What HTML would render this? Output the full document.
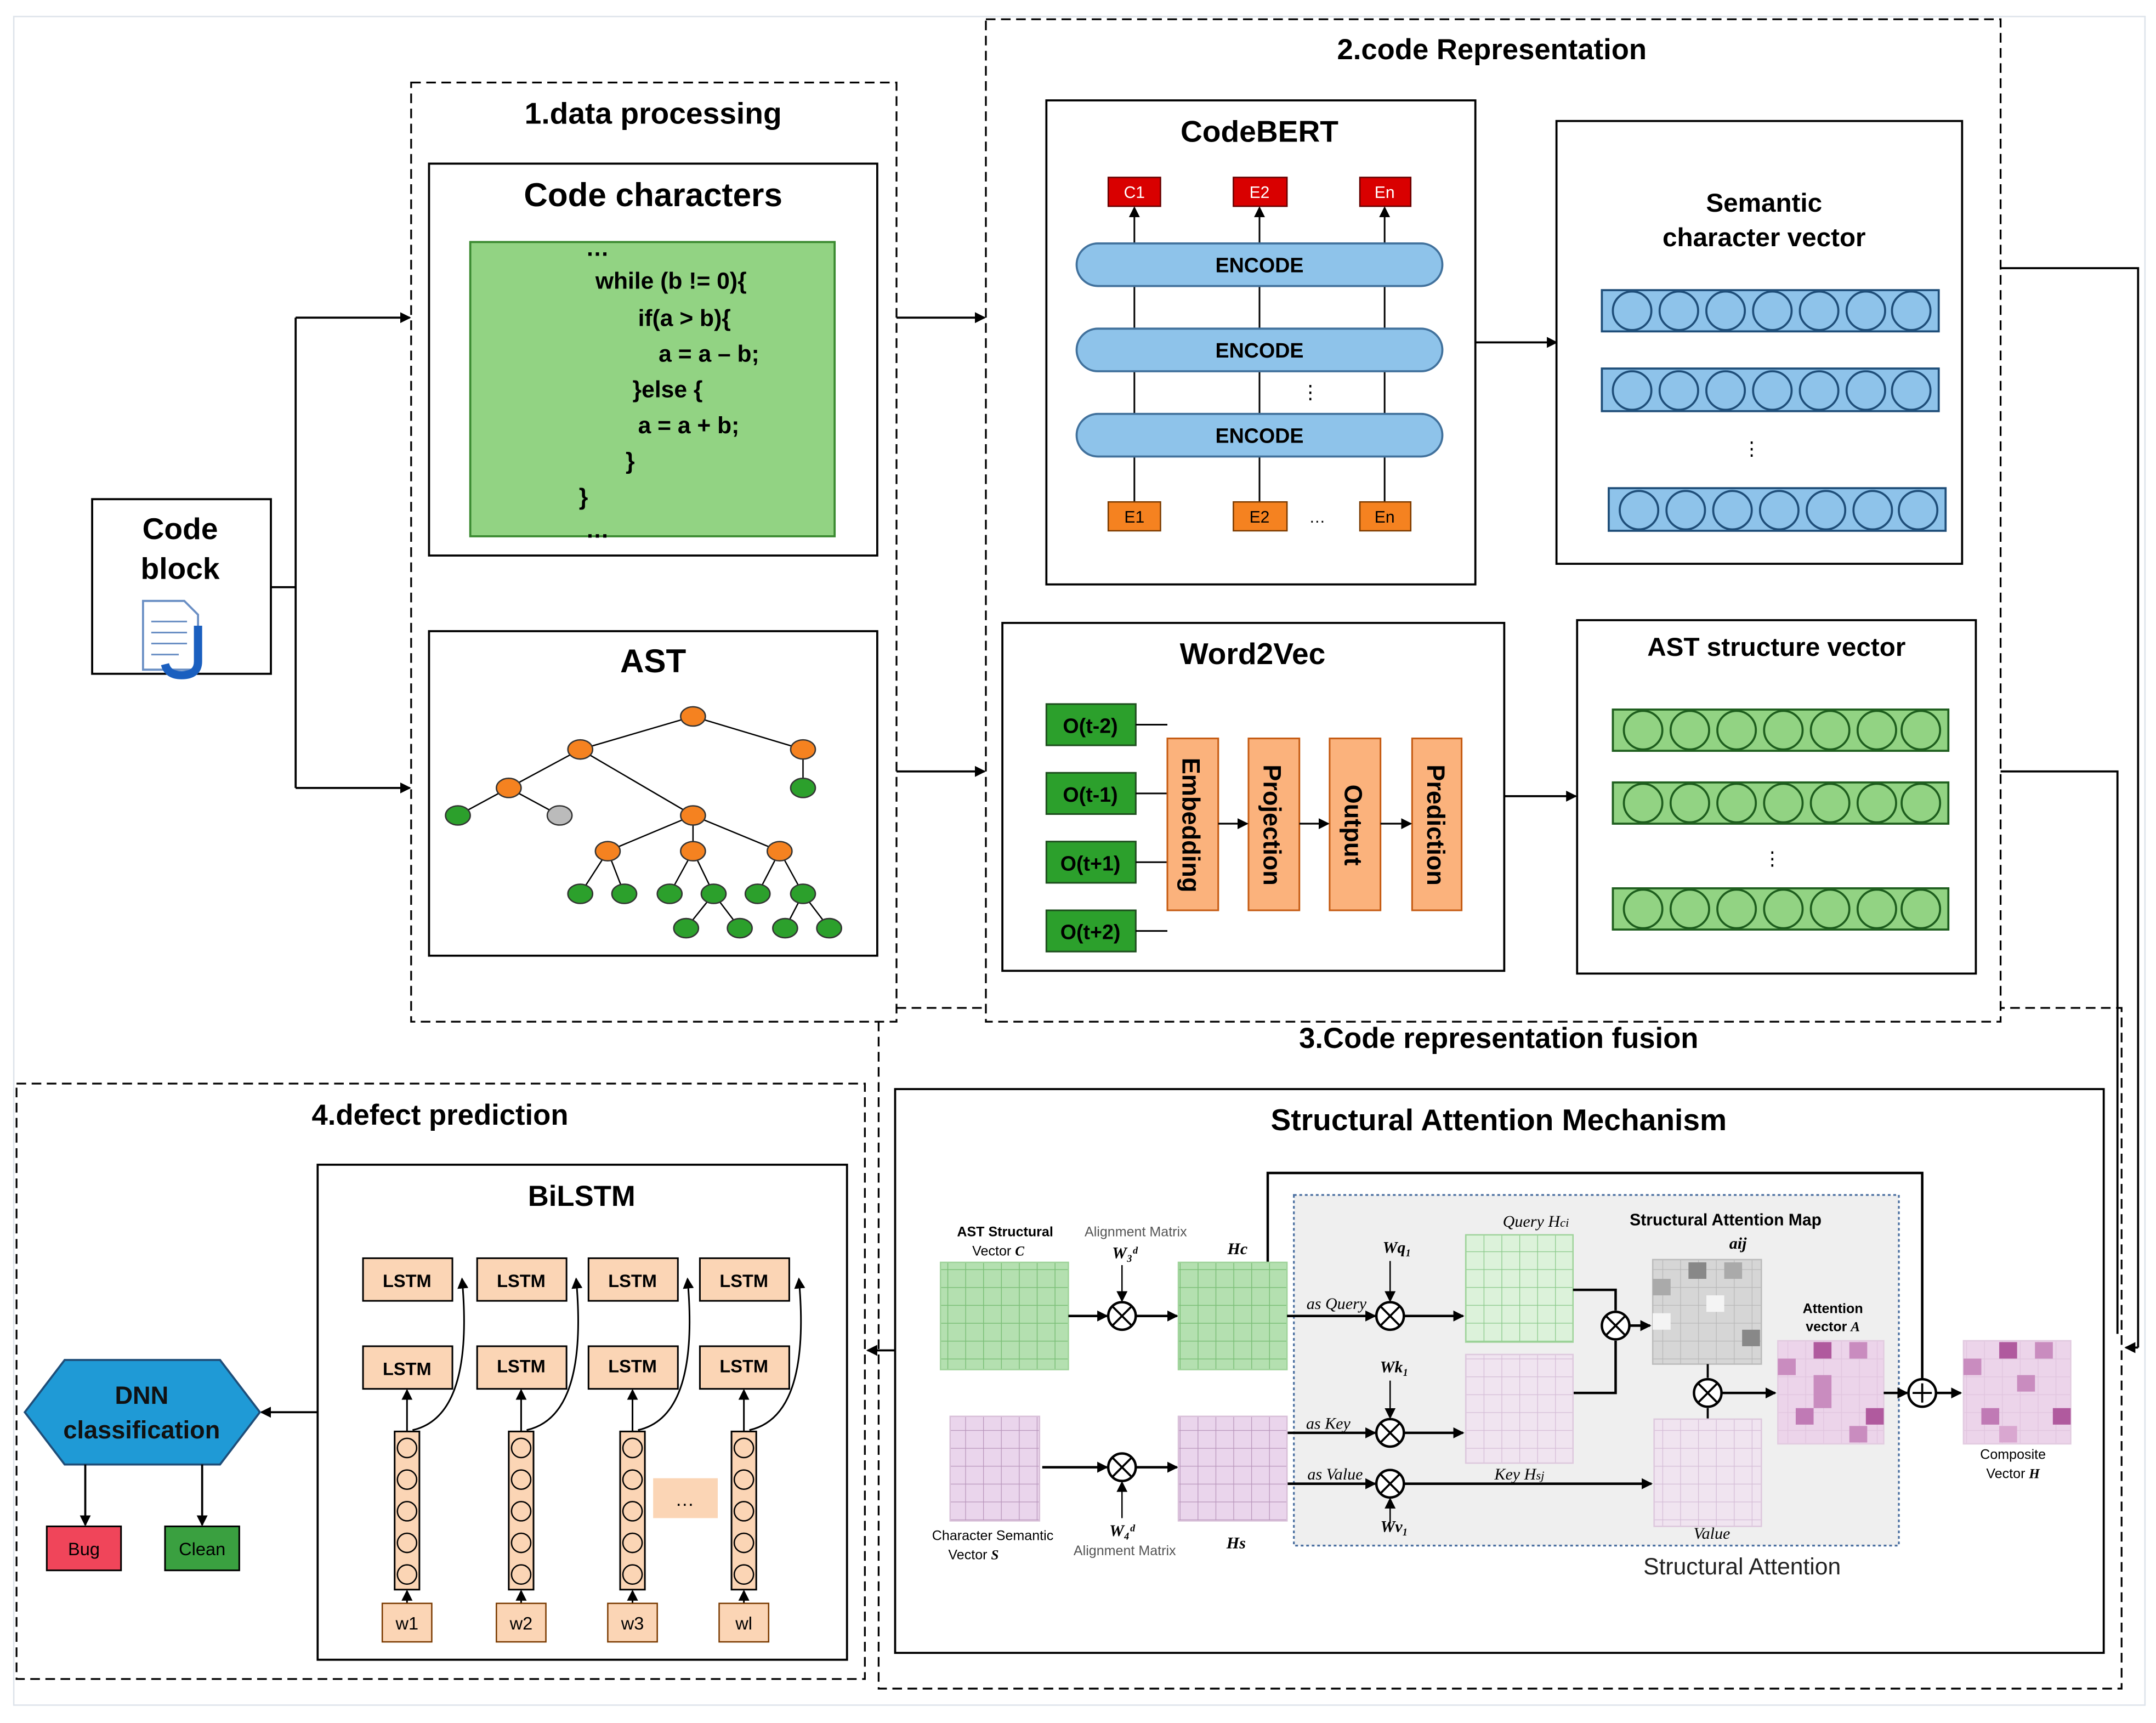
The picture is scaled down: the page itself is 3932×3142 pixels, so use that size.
<!DOCTYPE html>
<html><head><meta charset="utf-8"><style>
html,body{margin:0;padding:0;background:#fff}
svg{display:block}
text{font-family:"Liberation Sans",sans-serif}
.b{font-weight:bold}
.ser{font-family:"Liberation Serif",serif;font-style:italic}
</style></head><body>
<svg width="3932" height="3142" viewBox="0 0 1568 1253" xmlns="http://www.w3.org/2000/svg">
<defs>
<marker id="ar" markerWidth="8" markerHeight="8" refX="7" refY="4" orient="auto" markerUnits="userSpaceOnUse"><path d="M0,0 L8,4 L0,8 z" fill="#000"/></marker>
<pattern id="gG" width="13" height="13" patternUnits="userSpaceOnUse"><rect width="13" height="13" fill="#b4e0b0"/><path d="M0,0H13M0,0V13" stroke="#7cbf78" stroke-width="1.2" fill="none"/></pattern>
<pattern id="gLG" width="13" height="13" patternUnits="userSpaceOnUse"><rect width="13" height="13" fill="#dcf2da"/><path d="M0,0H13M0,0V13" stroke="#88c888" stroke-width="1" fill="none"/></pattern>
<pattern id="gP" width="13" height="13" patternUnits="userSpaceOnUse"><rect width="13" height="13" fill="#ead5ec"/><path d="M0,0H13M0,0V13" stroke="#b895bb" stroke-width="1" fill="none"/></pattern>
<pattern id="gLP" width="13" height="13" patternUnits="userSpaceOnUse"><rect width="13" height="13" fill="#f0e4f0"/><path d="M0,0H13M0,0V13" stroke="#d4bcd6" stroke-width="1" fill="none"/></pattern>
<pattern id="gA" width="13" height="13" patternUnits="userSpaceOnUse"><rect width="13" height="13" fill="#ecd4ea"/><path d="M0,0H13M0,0V13" stroke="#e0c4de" stroke-width="1" fill="none"/></pattern>
<pattern id="gGr" width="13" height="13" patternUnits="userSpaceOnUse"><rect width="13" height="13" fill="#d6d6d6"/><path d="M0,0H13M0,0V13" stroke="#b8b8b8" stroke-width="1" fill="none"/></pattern>
<g id="cb"><circle r="14" fill="#8ec3ea" stroke="#1f4e79" stroke-width="1.5"/></g>
<g id="cg"><circle r="14" fill="#92d383" stroke="#1e5e1e" stroke-width="1.5"/></g>
<g id="ot"><circle r="10" fill="#fff" stroke="#000" stroke-width="1.8"/><path d="M-7,-7L7,7M7,-7L-7,7" stroke="#000" stroke-width="1.5"/></g>
</defs>
<rect x="10" y="12" width="1550" height="1228" fill="none" stroke="#dde3ea" stroke-width="1"/>

<!-- Code block -->
<rect x="67" y="363" width="130" height="127" fill="#fff" stroke="#000" stroke-width="1.5"/>
<text x="131" y="392" class="b" font-size="22" text-anchor="middle">Code</text>
<text x="131" y="421" class="b" font-size="22" text-anchor="middle">block</text>
<path d="M104,437 h30 l10,10 v40 h-40 z" fill="#fff" stroke="#6a8fc4" stroke-width="1.5"/>
<path d="M110,452h26M110,460h26M110,468h26M110,476h20" stroke="#6a8fc4" stroke-width="1.2"/>
<path d="M144,455 v26 q0,10 -12,10 q-10,0 -12,-8" fill="none" stroke="#1a5fbf" stroke-width="6"/>
<path d="M197,427H215M215,231V573" stroke="#000" stroke-width="1.5" fill="none"/>
<path d="M215,231H298" stroke="#000" stroke-width="1.5" marker-end="url(#ar)"/>
<path d="M215,573H298" stroke="#000" stroke-width="1.5" marker-end="url(#ar)"/>

<!-- Box1 -->
<rect x="299" y="60" width="353" height="683" fill="none" stroke="#000" stroke-width="1.3" stroke-dasharray="7,4"/>
<text x="475" y="90" class="b" font-size="22" text-anchor="middle">1.data processing</text>
<rect x="312" y="119" width="326" height="285" fill="#fff" stroke="#000" stroke-width="1.5"/>
<text x="475" y="150" class="b" font-size="24" text-anchor="middle">Code characters</text>
<rect x="342" y="176" width="265" height="214" fill="#92d383" stroke="#3a8a30" stroke-width="1.5"/>
<g font-size="17" class="b" fill="#000">
<text x="426" y="186">…</text>
<text x="433" y="210">while (b != 0){</text>
<text x="464" y="237">if(a &gt; b){</text>
<text x="479" y="263">a = a – b;</text>
<text x="460" y="289">}else {</text>
<text x="464" y="315">a = a + b;</text>
<text x="455" y="341">}</text>
<text x="421" y="367">}</text>
<text x="426" y="391">…</text>
</g>
<rect x="312" y="459" width="326" height="236" fill="#fff" stroke="#000" stroke-width="1.5"/>
<text x="475" y="489" class="b" font-size="24" text-anchor="middle">AST</text>
<g stroke="#000" stroke-width="1">
<path d="M504,521L422,545M504,521L584,545M422,545L370,573M422,545L504,593M584,545L584,573M370,573L333,593M370,573L407,593M504,593L442,619M504,593L504,619M504,593L567,619M442,619L422,650M442,619L454,650M504,619L487,650M504,619L519,650M567,619L551,650M567,619L584,650M519,650L499,675M519,650L538,675M584,650L571,675M584,650L603,675"/>
</g>
<g stroke="#333" stroke-width="1">
<g fill="#f58220"><ellipse cx="504" cy="521" rx="9" ry="7"/><ellipse cx="422" cy="545" rx="9" ry="7"/><ellipse cx="584" cy="545" rx="9" ry="7"/><ellipse cx="370" cy="573" rx="9" ry="7"/><ellipse cx="504" cy="593" rx="9" ry="7"/><ellipse cx="442" cy="619" rx="9" ry="7"/><ellipse cx="504" cy="619" rx="9" ry="7"/><ellipse cx="567" cy="619" rx="9" ry="7"/></g>
<g fill="#2ca02c"><ellipse cx="584" cy="573" rx="9" ry="7"/><ellipse cx="333" cy="593" rx="9" ry="7"/><ellipse cx="422" cy="650" rx="9" ry="7"/><ellipse cx="454" cy="650" rx="9" ry="7"/><ellipse cx="487" cy="650" rx="9" ry="7"/><ellipse cx="519" cy="650" rx="9" ry="7"/><ellipse cx="551" cy="650" rx="9" ry="7"/><ellipse cx="584" cy="650" rx="9" ry="7"/><ellipse cx="499" cy="675" rx="9" ry="7"/><ellipse cx="538" cy="675" rx="9" ry="7"/><ellipse cx="571" cy="675" rx="9" ry="7"/><ellipse cx="603" cy="675" rx="9" ry="7"/></g>
<ellipse cx="407" cy="593" rx="9" ry="7" fill="#bbb"/>
</g>
<path d="M652,231H716" stroke="#000" stroke-width="1.5" marker-end="url(#ar)"/>
<path d="M652,561H716" stroke="#000" stroke-width="1.5" marker-end="url(#ar)"/>

<!-- Box2 -->
<rect x="717" y="14" width="738" height="729" fill="none" stroke="#000" stroke-width="1.3" stroke-dasharray="7,4"/>
<text x="1085" y="43" class="b" font-size="21" text-anchor="middle">2.code Representation</text>
<rect x="761" y="73" width="312" height="352" fill="#fff" stroke="#000" stroke-width="1.5"/>
<text x="916" y="103" class="b" font-size="22" text-anchor="middle">CodeBERT</text>
<g stroke="#000" stroke-width="1.2">
<path d="M825,365V151" marker-end="url(#ar)"/>
<path d="M916,365V151" marker-end="url(#ar)"/>
<path d="M1007,365V151" marker-end="url(#ar)"/>
</g>
<g fill="#8ec3ea" stroke="#41719c" stroke-width="1.5">
<rect x="783" y="177" width="266" height="31" rx="15.5"/>
<rect x="783" y="239" width="266" height="31" rx="15.5"/>
<rect x="783" y="301" width="266" height="31" rx="15.5"/>
</g>
<g class="b" font-size="15" text-anchor="middle"><text x="916" y="198">ENCODE</text><text x="916" y="260">ENCODE</text><text x="916" y="322">ENCODE</text></g>
<text x="953" y="290" font-size="14" text-anchor="middle">⋮</text>
<g fill="#d90000" stroke="#600" stroke-width="1"><rect x="806" y="129" width="38" height="21"/><rect x="897" y="129" width="39" height="21"/><rect x="989" y="129" width="37" height="21"/></g>
<g font-size="12" text-anchor="middle" fill="#fff"><text x="825" y="144">C1</text><text x="916" y="144">E2</text><text x="1007" y="144">En</text></g>
<g fill="#f58220" stroke="#7a3a00" stroke-width="1"><rect x="806" y="365" width="38" height="21"/><rect x="897" y="365" width="39" height="21"/><rect x="989" y="365" width="37" height="21"/></g>
<g font-size="12" text-anchor="middle"><text x="825" y="380">E1</text><text x="916" y="380">E2</text><text x="1007" y="380">En</text><text x="958" y="380">…</text></g>
<path d="M1073,249H1132" stroke="#000" stroke-width="1.5" marker-end="url(#ar)"/>

<rect x="1132" y="88" width="295" height="322" fill="#fff" stroke="#000" stroke-width="1.5"/>
<text x="1283" y="154" class="b" font-size="19" text-anchor="middle">Semantic</text>
<text x="1283" y="179" class="b" font-size="19" text-anchor="middle">character vector</text>
<g fill="#8ec3ea" stroke="#1f4e79" stroke-width="1.5">
<rect x="1165" y="211" width="245" height="30"/><rect x="1165" y="268" width="245" height="31"/><rect x="1170" y="355" width="245" height="31"/>
</g>
<g>
<use href="#cb" x="1187" y="226"/><use href="#cb" x="1221" y="226"/><use href="#cb" x="1255" y="226"/><use href="#cb" x="1289" y="226"/><use href="#cb" x="1323" y="226"/><use href="#cb" x="1357" y="226"/><use href="#cb" x="1390" y="226"/>
<use href="#cb" x="1187" y="284"/><use href="#cb" x="1221" y="284"/><use href="#cb" x="1255" y="284"/><use href="#cb" x="1289" y="284"/><use href="#cb" x="1323" y="284"/><use href="#cb" x="1357" y="284"/><use href="#cb" x="1390" y="284"/>
<use href="#cb" x="1192" y="371"/><use href="#cb" x="1226" y="371"/><use href="#cb" x="1260" y="371"/><use href="#cb" x="1294" y="371"/><use href="#cb" x="1328" y="371"/><use href="#cb" x="1362" y="371"/><use href="#cb" x="1395" y="371"/>
</g>
<text x="1274" y="331" font-size="14" text-anchor="middle">⋮</text>

<rect x="729" y="453" width="365" height="253" fill="#fff" stroke="#000" stroke-width="1.5"/>
<text x="911" y="483" class="b" font-size="22" text-anchor="middle">Word2Vec</text>
<g fill="#2ca02c" stroke="#1e4e1e" stroke-width="1.2">
<rect x="761" y="512" width="65" height="30"/><rect x="761" y="562" width="65" height="30"/><rect x="761" y="612" width="65" height="30"/><rect x="761" y="662" width="65" height="30"/>
</g>
<g class="b" font-size="15" text-anchor="middle"><text x="793" y="533">O(t-2)</text><text x="793" y="583">O(t-1)</text><text x="793" y="633">O(t+1)</text><text x="793" y="683">O(t+2)</text></g>
<path d="M826,527H849M826,577H849M826,627H849M826,677H849" stroke="#000" stroke-width="1.2"/>
<g fill="#fbb27c" stroke="#c55a11" stroke-width="1.2">
<rect x="849" y="537" width="37" height="125"/><rect x="908" y="537" width="37" height="125"/><rect x="967" y="537" width="37" height="125"/><rect x="1027" y="537" width="36" height="125"/>
</g>
<g class="b" font-size="18" text-anchor="middle">
<text transform="translate(860,600) rotate(90)">Embedding</text>
<text transform="translate(919,600) rotate(90)">Projection</text>
<text transform="translate(978,600) rotate(90)">Output</text>
<text transform="translate(1038,600) rotate(90)">Prediction</text>
</g>
<path d="M886,599H907" stroke="#000" stroke-width="1.3" marker-end="url(#ar)"/>
<path d="M945,599H966" stroke="#000" stroke-width="1.3" marker-end="url(#ar)"/>
<path d="M1004,599H1026" stroke="#000" stroke-width="1.3" marker-end="url(#ar)"/>
<path d="M1094,579H1146" stroke="#000" stroke-width="1.5" marker-end="url(#ar)"/>

<rect x="1147" y="451" width="290" height="257" fill="#fff" stroke="#000" stroke-width="1.5"/>
<text x="1292" y="477" class="b" font-size="19" text-anchor="middle">AST structure vector</text>
<g fill="#92d383" stroke="#1e5e1e" stroke-width="1.5">
<rect x="1173" y="516" width="244" height="30"/><rect x="1173" y="569" width="244" height="30"/><rect x="1173" y="646" width="244" height="30"/>
</g>
<g>
<use href="#cg" x="1195" y="531"/><use href="#cg" x="1229" y="531"/><use href="#cg" x="1263" y="531"/><use href="#cg" x="1297" y="531"/><use href="#cg" x="1331" y="531"/><use href="#cg" x="1365" y="531"/><use href="#cg" x="1397" y="531"/>
<use href="#cg" x="1195" y="584"/><use href="#cg" x="1229" y="584"/><use href="#cg" x="1263" y="584"/><use href="#cg" x="1297" y="584"/><use href="#cg" x="1331" y="584"/><use href="#cg" x="1365" y="584"/><use href="#cg" x="1397" y="584"/>
<use href="#cg" x="1195" y="661"/><use href="#cg" x="1229" y="661"/><use href="#cg" x="1263" y="661"/><use href="#cg" x="1297" y="661"/><use href="#cg" x="1331" y="661"/><use href="#cg" x="1365" y="661"/><use href="#cg" x="1397" y="661"/>
</g>
<text x="1289" y="629" font-size="14" text-anchor="middle">⋮</text>

<!-- right connectors -->
<path d="M1455,195H1555V980" fill="none" stroke="#000" stroke-width="1.5"/>
<path d="M1555,980H1546" stroke="#000" stroke-width="1.5" marker-end="url(#ar)"/>
<path d="M1455,561H1540V970" fill="none" stroke="#000" stroke-width="1.5"/>

<!-- Box3 -->
<path d="M652,733H717M639,743V1228H1543V733H1455" fill="none" stroke="#000" stroke-width="1.3" stroke-dasharray="7,4"/>
<text x="1090" y="762" class="b" font-size="21" text-anchor="middle">3.Code representation fusion</text>
<rect x="651" y="792" width="879" height="410" fill="#fff" stroke="#000" stroke-width="1.5"/>
<text x="1090" y="822" class="b" font-size="22" text-anchor="middle">Structural Attention Mechanism</text>
<rect x="941" y="869" width="440" height="255" fill="#efefef" stroke="#4a6fa0" stroke-width="1.3" stroke-dasharray="2,2"/>
<path d="M922,918V853H1398V1003" fill="none" stroke="#000" stroke-width="1.8"/>
<text x="731" y="899" font-size="10" class="b" text-anchor="middle">AST Structural</text>
<text x="726" y="913" font-size="10" text-anchor="middle">Vector  <tspan class="ser b">C</tspan></text>
<text x="826" y="899" font-size="10" fill="#555" text-anchor="middle">Alignment Matrix</text>
<text x="818" y="915" font-size="12" class="ser b" text-anchor="middle">W₃ᵈ</text>
<rect x="684" y="918" width="93" height="78" fill="url(#gG)" stroke="#9fd39a"/>
<path d="M777,957H805" stroke="#000" stroke-width="1.8" marker-end="url(#ar)"/>
<path d="M816,920V946" stroke="#000" stroke-width="1" marker-end="url(#ar)"/>
<use href="#ot" x="816" y="957"/>
<path d="M826,957H856" stroke="#000" stroke-width="1.8" marker-end="url(#ar)"/>
<text x="900" y="912" font-size="12" class="ser b" text-anchor="middle">Hc</text>
<rect x="857" y="918" width="79" height="78" fill="url(#gG)" stroke="#9fd39a"/>
<path d="M936,957H1000" stroke="#000" stroke-width="1.8" marker-end="url(#ar)"/>
<text x="972" y="952" font-size="12" class="ser" text-anchor="middle">as Query</text>
<text x="1016" y="911" font-size="12" class="ser b" text-anchor="middle">Wq₁</text>
<path d="M1011,917V946" stroke="#000" stroke-width="1" marker-end="url(#ar)"/>
<use href="#ot" x="1011" y="957"/>
<path d="M1021,957H1064" stroke="#000" stroke-width="1.8" marker-end="url(#ar)"/>
<text x="1117" y="892" font-size="12" class="ser" text-anchor="middle">Query H<tspan font-size="9">ci</tspan></text>
<rect x="1066" y="898" width="78" height="78" fill="url(#gLG)" stroke="#9fd39a"/>
<text x="1255" y="891" font-size="12" class="b" font-family="Liberation Serif" text-anchor="middle">Structural  Attention Map</text>
<text x="1264" y="908" font-size="12" class="ser b" text-anchor="middle">aij</text>
<rect x="1202" y="916" width="79" height="76" fill="url(#gGr)" stroke="#bbb"/>
<rect x="1228" y="918" width="13" height="12" fill="#888"/><rect x="1254" y="918" width="13" height="12" fill="#aaa"/><rect x="1202" y="930" width="13" height="12" fill="#aaa"/><rect x="1267" y="967" width="13" height="12" fill="#888"/><rect x="1241" y="942" width="13" height="12" fill="#f4f4f4"/><rect x="1202" y="955" width="13" height="12" fill="#f4f4f4"/>
<path d="M1144,938H1175V953M1144,1013H1175V975" fill="none" stroke="#000" stroke-width="1.8"/>
<use href="#ot" x="1175" y="964"/>
<path d="M1185,964H1200" stroke="#000" stroke-width="1.8" marker-end="url(#ar)"/>
<path d="M1242,992V1002M1242,1032V1024" stroke="#000" stroke-width="1.5"/>
<use href="#ot" x="1242" y="1013"/>
<path d="M1252,1013H1291" stroke="#000" stroke-width="1.8" marker-end="url(#ar)"/>
<text x="1333" y="955" font-size="10" class="b" text-anchor="middle">Attention</text>
<text x="1333" y="968" font-size="10" class="b" text-anchor="middle">vector  <tspan class="ser">A</tspan></text>
<rect x="1293" y="975" width="77" height="75" fill="url(#gA)" stroke="#e2cbe0"/>
<rect x="1319" y="976" width="13" height="12" fill="#b05a9e"/><rect x="1345" y="976" width="13" height="12" fill="#c98cbf"/><rect x="1293" y="988" width="13" height="12" fill="#c98cbf"/><rect x="1319" y="1000" width="13" height="24" fill="#c98cbf"/><rect x="1306" y="1024" width="13" height="12" fill="#c07ab5"/><rect x="1357" y="1024" width="13" height="12" fill="#b05a9e"/><rect x="1345" y="1037" width="13" height="12" fill="#c98cbf"/>
<circle cx="1398" cy="1013" r="10" fill="#fff" stroke="#000" stroke-width="1.8"/><path d="M1391,1013H1405M1398,1006V1020" stroke="#000" stroke-width="1.5"/>
<path d="M1370,1013H1387" stroke="#000" stroke-width="1.8" marker-end="url(#ar)"/>
<path d="M1408,1013H1426" stroke="#000" stroke-width="1.8" marker-end="url(#ar)"/>
<rect x="1428" y="975" width="78" height="75" fill="url(#gA)" stroke="#e2cbe0"/>
<rect x="1454" y="976" width="13" height="12" fill="#b05a9e"/><rect x="1480" y="976" width="13" height="12" fill="#c98cbf"/><rect x="1428" y="988" width="13" height="12" fill="#c98cbf"/><rect x="1467" y="1000" width="13" height="12" fill="#c98cbf"/><rect x="1493" y="1024" width="13" height="12" fill="#b05a9e"/><rect x="1441" y="1024" width="13" height="12" fill="#c07ab5"/><rect x="1454" y="1037" width="13" height="12" fill="#d9a7d0"/>
<text x="1464" y="1061" font-size="10" text-anchor="middle">Composite</text>
<text x="1464" y="1075" font-size="10" text-anchor="middle">Vector  <tspan class="ser b">H</tspan></text>
<text x="966" y="1039" font-size="12" class="ser" text-anchor="middle">as  Key</text>
<text x="1014" y="998" font-size="12" class="ser b" text-anchor="middle">Wk₁</text>
<path d="M1011,1004V1031" stroke="#000" stroke-width="1" marker-end="url(#ar)"/>
<path d="M936,1042H1000" stroke="#000" stroke-width="1.8" marker-end="url(#ar)"/>
<use href="#ot" x="1011" y="1042"/>
<path d="M1021,1042H1064" stroke="#000" stroke-width="1.8" marker-end="url(#ar)"/>
<rect x="1066" y="985" width="78" height="79" fill="url(#gLP)" stroke="#ddc8dd"/>
<text x="1105" y="1076" font-size="12" class="ser" text-anchor="middle">Key H<tspan font-size="9">sj</tspan></text>
<text x="971" y="1076" font-size="12" class="ser" text-anchor="middle">as Value</text>
<path d="M936,1079H1000" stroke="#000" stroke-width="1.8" marker-end="url(#ar)"/>
<use href="#ot" x="1011" y="1079"/>
<path d="M1011,1108V1090" stroke="#000" stroke-width="1" marker-end="url(#ar)"/>
<text x="1014" y="1114" font-size="12" class="ser b" text-anchor="middle">Wv₁</text>
<path d="M1021,1079H1201" stroke="#000" stroke-width="1.8" marker-end="url(#ar)"/>
<rect x="1203" y="1032" width="78" height="78" fill="url(#gLP)" stroke="#ddc8dd"/>
<text x="1245" y="1119" font-size="12" class="ser" text-anchor="middle">Value</text>
<text x="1267" y="1145" font-size="17" text-anchor="middle" fill="#222">Structural  Attention</text>
<rect x="691" y="1030" width="65" height="76" fill="url(#gP)" stroke="#d8bfd8"/>
<text x="722" y="1120" font-size="10" text-anchor="middle">Character Semantic</text>
<text x="708" y="1134" font-size="10" text-anchor="middle">Vector  <tspan class="ser b">S</tspan></text>
<path d="M758,1067H805" stroke="#000" stroke-width="1.8" marker-end="url(#ar)"/>
<use href="#ot" x="816" y="1067"/>
<path d="M816,1104V1078" stroke="#000" stroke-width="1" marker-end="url(#ar)"/>
<text x="816" y="1117" font-size="12" class="ser b" text-anchor="middle">W₄ᵈ</text>
<text x="818" y="1131" font-size="10" fill="#555" text-anchor="middle">Alignment Matrix</text>
<path d="M826,1067H856" stroke="#000" stroke-width="1.8" marker-end="url(#ar)"/>
<rect x="857" y="1030" width="79" height="76" fill="url(#gP)" stroke="#d8bfd8"/>
<text x="899" y="1126" font-size="12" class="ser b" text-anchor="middle">Hs</text>
<path d="M651,982H631" stroke="#000" stroke-width="1.5" marker-end="url(#ar)"/>

<!-- Box4 -->
<rect x="12" y="788" width="617" height="433" fill="none" stroke="#000" stroke-width="1.3" stroke-dasharray="7,4"/>
<text x="320" y="818" class="b" font-size="21" text-anchor="middle">4.defect prediction</text>
<rect x="231" y="847" width="385" height="360" fill="#fff" stroke="#000" stroke-width="1.5"/>
<text x="423" y="877" class="b" font-size="21" text-anchor="middle">BiLSTM</text>
<g fill="#fbd5b5" stroke="#000" stroke-width="1.2">
<rect x="264" y="915" width="65" height="31"/><rect x="347" y="915" width="65" height="31"/><rect x="428" y="915" width="65" height="31"/><rect x="509" y="915" width="65" height="31"/>
<rect x="264" y="979" width="65" height="31"/><rect x="347" y="979" width="65" height="31"/><rect x="428" y="979" width="65" height="31"/><rect x="509" y="979" width="65" height="31"/>
</g>
<g font-size="13" text-anchor="middle" class="b">
<text x="296" y="936">LSTM</text><text x="379" y="936">LSTM</text><text x="460" y="936">LSTM</text><text x="541" y="936">LSTM</text>
<text x="296" y="1000">LSTM</text><text x="379" y="998">LSTM</text><text x="460" y="998">LSTM</text><text x="541" y="998">LSTM</text>
</g>
<g stroke="#000" stroke-width="1.2" fill="none">
<path d="M296,1041V1011" marker-end="url(#ar)"/><path d="M379,1041V1011" marker-end="url(#ar)"/><path d="M460,1041V1011" marker-end="url(#ar)"/><path d="M541,1041V1011" marker-end="url(#ar)"/>
<path d="M296,1166V1157" marker-end="url(#ar)"/><path d="M379,1166V1157" marker-end="url(#ar)"/><path d="M460,1166V1157" marker-end="url(#ar)"/><path d="M541,1166V1157" marker-end="url(#ar)"/>
<path d="M300,1040 Q345,1030 336,930" marker-end="url(#ar)"/><path d="M383,1040 Q428,1030 419,930" marker-end="url(#ar)"/><path d="M464,1040 Q509,1030 500,930" marker-end="url(#ar)"/><path d="M545,1040 Q590,1030 581,930" marker-end="url(#ar)"/>
</g>
<g fill="#fbd5b5" stroke="#000" stroke-width="1.2">
<rect x="287" y="1041" width="18" height="115"/><rect x="370" y="1041" width="18" height="115"/><rect x="451" y="1041" width="18" height="115"/><rect x="532" y="1041" width="18" height="115"/>
</g>
<g fill="#fbd5b5" stroke="#000" stroke-width="1">
<circle cx="296" cy="1053" r="7"/><circle cx="296" cy="1076" r="7"/><circle cx="296" cy="1099" r="7"/><circle cx="296" cy="1122" r="7"/><circle cx="296" cy="1145" r="7"/>
<circle cx="379" cy="1053" r="7"/><circle cx="379" cy="1076" r="7"/><circle cx="379" cy="1099" r="7"/><circle cx="379" cy="1122" r="7"/><circle cx="379" cy="1145" r="7"/>
<circle cx="460" cy="1053" r="7"/><circle cx="460" cy="1076" r="7"/><circle cx="460" cy="1099" r="7"/><circle cx="460" cy="1122" r="7"/><circle cx="460" cy="1145" r="7"/>
<circle cx="541" cy="1053" r="7"/><circle cx="541" cy="1076" r="7"/><circle cx="541" cy="1099" r="7"/><circle cx="541" cy="1122" r="7"/><circle cx="541" cy="1145" r="7"/>
</g>
<rect x="475" y="1075" width="47" height="29" fill="#fbd5b5"/>
<text x="498" y="1095" font-size="14" text-anchor="middle">…</text>
<g fill="#fbd5b5" stroke="#7a3a00" stroke-width="1">
<rect x="278" y="1166" width="36" height="28"/><rect x="361" y="1166" width="36" height="28"/><rect x="442" y="1166" width="36" height="28"/><rect x="523" y="1166" width="36" height="28"/>
</g>
<g font-size="13" text-anchor="middle"><text x="296" y="1185">w1</text><text x="379" y="1185">w2</text><text x="460" y="1185">w3</text><text x="541" y="1185">wl</text></g>
<path d="M231,1027H190" stroke="#000" stroke-width="1.5" marker-end="url(#ar)"/>
<polygon points="18,1027 47,989 160,989 189,1027 160,1065 47,1065" fill="#1f9ad6" stroke="#1f4e79" stroke-width="1.5"/>
<text x="103" y="1021" font-size="18" class="b" text-anchor="middle" fill="#111">DNN</text>
<text x="103" y="1046" font-size="18" class="b" text-anchor="middle" fill="#111">classification</text>
<path d="M62,1065V1109" stroke="#000" stroke-width="1.5" marker-end="url(#ar)"/>
<path d="M147,1065V1109" stroke="#000" stroke-width="1.5" marker-end="url(#ar)"/>
<rect x="34" y="1110" width="54" height="32" fill="#f0455a" stroke="#000" stroke-width="1.2"/>
<rect x="120" y="1110" width="54" height="32" fill="#3aa040" stroke="#000" stroke-width="1.2"/>
<text x="61" y="1131" font-size="13" text-anchor="middle">Bug</text>
<text x="147" y="1131" font-size="13" text-anchor="middle">Clean</text>
</svg>
</body></html>
